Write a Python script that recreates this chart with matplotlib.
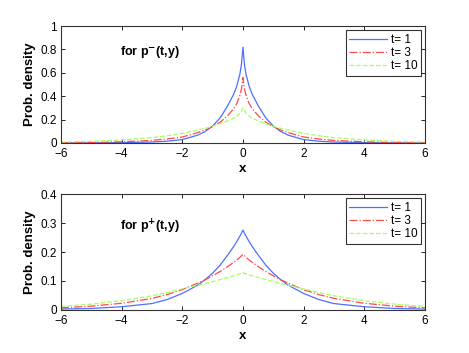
import matplotlib
matplotlib.use("Agg")
import matplotlib.pyplot as plt
import numpy as np

plt.rcParams['font.family'] = ['Liberation Sans', 'DejaVu Sans']

# half-grid (x >= 0); curves are symmetric around 0
x_half = [0, 0.05, 0.1, 0.2, 0.3, 0.5, 0.75, 1.0, 1.25, 1.5, 2.0, 2.5, 3.0, 4.0, 5.0, 6.0]

# top panel: p^-(t,y)
pm_t1 = [0.82, 0.67, 0.59, 0.49, 0.42, 0.32, 0.215, 0.145, 0.097, 0.066, 0.029, 0.015, 0.008, 0.003, 0.001, 0.0003]
pm_t3 = [0.56, 0.46, 0.41, 0.34, 0.295, 0.235, 0.178, 0.14, 0.11, 0.088, 0.051, 0.034, 0.022, 0.01, 0.004, 0.002]
pm_t10 = [0.30, 0.275, 0.255, 0.23, 0.213, 0.19, 0.165, 0.142, 0.125, 0.11, 0.082, 0.062, 0.046, 0.026, 0.014, 0.008]

# bottom panel: p^+(t,y)
pp_t1 = [0.276, 0.265, 0.255, 0.237, 0.22, 0.19, 0.155, 0.127, 0.104, 0.085, 0.057, 0.036, 0.022, 0.011, 0.005, 0.003]
pp_t3 = [0.192, 0.187, 0.182, 0.173, 0.165, 0.15, 0.133, 0.118, 0.104, 0.092, 0.07, 0.053, 0.04, 0.023, 0.013, 0.007]
pp_t10 = [0.129, 0.127, 0.125, 0.121, 0.118, 0.112, 0.105, 0.098, 0.091, 0.085, 0.073, 0.06, 0.049, 0.032, 0.02, 0.012]

labels = ['t= 1', 't= 3', 't= 10']
colors = ['#4f6fff', '#ff4a4a', '#a6ff60']
styles = ['-', '-.', '--']

def full(xh, yh):
    xh = np.asarray(xh); yh = np.asarray(yh)
    return np.concatenate([-xh[:0:-1], xh]), np.concatenate([yh[:0:-1], yh])

fig = plt.figure(figsize=(4.69, 3.53), dpi=100)
ax1 = fig.add_axes([0.130, 0.595, 0.776, 0.331])
ax2 = fig.add_axes([0.130, 0.122, 0.776, 0.328])

panels = [
    (ax1, [pm_t1, pm_t3, pm_t10], [0, 1], np.arange(0, 1.01, 0.2), ['0', '0.2', '0.4', '0.6', '0.8', '1'], r'for p$^{\mathbf{-}}$(t,y)', 0.78),
    (ax2, [pp_t1, pp_t3, pp_t10], [0, 0.4], np.arange(0, 0.41, 0.1), ['0', '0.1', '0.2', '0.3', '0.4'], r'for p$^{\mathbf{+}}$(t,y)', 0.287),
]

for ax, series, ylim, yt, ytl, title, ty in panels:
    for ys, lab, c, ls in zip(series, labels, colors, styles):
        xx, yy = full(x_half, ys)
        ax.plot(xx, yy, ls, color=c, lw=0.9, label=lab)
    ax.set_xlim(-6, 6)
    ax.set_ylim(*ylim)
    ax.set_xticks([-6, -4, -2, 0, 2, 4, 6])
    ax.set_xticklabels(['\u22126', '\u22124', '\u22122', '0', '2', '4', '6'])
    ax.set_yticks(yt)
    ax.set_yticklabels(ytl)
    ax.tick_params(direction='in', length=3, width=0.6, labelsize=8.5, top=True, right=True)
    ax.tick_params(axis='x', pad=3.5)
    ax.tick_params(axis='y', pad=3)
    for s in ax.spines.values():
        s.set_linewidth(0.8)
        s.set_color('#333333')
    ax.set_xlabel('x', fontweight='bold', fontsize=9.5, labelpad=2)
    ax.set_ylabel('Prob. density', fontweight='bold', fontsize=9.5, labelpad=3)
    ax.text(-4.05, ty, title, fontweight='bold', fontsize=9, va='center', ha='left')
    leg = ax.legend(loc='upper right', fontsize=8.5, frameon=True, fancybox=False,
                    borderaxespad=0.35, handlelength=3.2, handletextpad=0.3,
                    labelspacing=0.1, borderpad=0.3)
    leg.get_frame().set_edgecolor('black')
    leg.get_frame().set_linewidth(0.8)

fig.savefig('out.png', dpi=100)
